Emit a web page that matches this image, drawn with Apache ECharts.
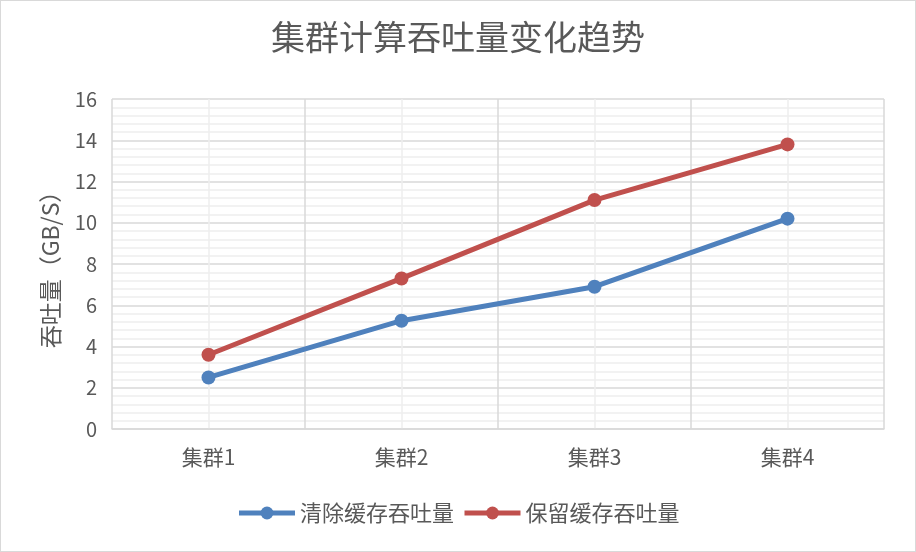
<!DOCTYPE html>
<html>
<head>
<meta charset="utf-8">
<script src="https://cdn.jsdelivr.net/npm/echarts@6/dist/echarts.min.js"></script>
<style>
  html, body { margin: 0; padding: 0; background: #fff; }
  #chart { width: 916px; height: 552px; box-sizing: border-box; border: 1px solid #d9d9d9; }
</style>
</head>
<body>
<div id="chart"></div>
<script>
// 数据
const clusters = ['集群1', '集群2', '集群3', '集群4'];
const clearCache = [2.5, 5.25, 6.9, 10.2];
const keepCache = [3.6, 7.3, 11.1, 13.8];
const seriesNames = ['清除缓存吞吐量', '保留缓存吞吐量'];

const FONT = '"Noto Sans CJK SC", "Noto Sans", sans-serif';
const TEXT = '#595959';

const chart = echarts.init(document.getElementById('chart'), null, { renderer: 'canvas' });

const option = {
  animation: false,
  color: ['#4f81bd', '#c0504d'],
  textStyle: { fontFamily: FONT },
  title: {
    text: '集群计算吞吐量变化趋势',
    left: 'center',
    top: 14,
    textStyle: { fontFamily: FONT, fontSize: 34, fontWeight: 'normal', color: TEXT }
  },
  legend: {
    bottom: 22,
    left: 'center',
    itemWidth: 56,
    itemHeight: 16,
    itemGap: 8,
    lineStyle: { width: 5 },
    textStyle: { fontFamily: FONT, fontSize: 22, color: TEXT },
    data: seriesNames
  },
  grid: { left: 111, right: 31, top: 98, bottom: 122 },
  xAxis: [
    {
      type: 'category',
      data: clusters,
      boundaryGap: true,
      axisLine: { lineStyle: { color: '#d9d9d9', width: 1.5 } },
      axisTick: { show: false },
      splitLine: { show: false },
      axisLabel: { margin: 18, fontSize: 21, color: TEXT, fontFamily: FONT }
    },
    {
      // 只用来画竖向网格线（分类边界深、中心浅）
      type: 'value',
      min: 0,
      max: 4,
      interval: 0.5,
      position: 'top',
      axisLine: { show: false },
      axisTick: { show: false },
      axisLabel: { show: false },
      splitLine: { show: true, lineStyle: { color: ['#d9d9d9', '#eeeeee'], width: 1.5 } }
    }
  ],
  yAxis: {
    type: 'value',
    min: 0,
    max: 16,
    interval: 2,
    name: '吞吐量（GB/S）',
    nameLocation: 'middle',
    nameGap: 50,
    nameTextStyle: { fontFamily: FONT, fontSize: 23, color: TEXT },
    axisLine: { show: false },
    axisTick: { show: false },
    axisLabel: { margin: 15, fontSize: 20, color: TEXT, fontFamily: FONT },
    splitLine: { show: true, lineStyle: { color: '#d9d9d9', width: 1.5 } },
    minorTick: { show: false, splitNumber: 5 },
    minorSplitLine: { show: true, lineStyle: { color: '#eeeeee', width: 1.5 } }
  },
  series: [
    {
      name: seriesNames[0],
      type: 'line',
      data: clearCache,
      symbol: 'circle',
      symbolSize: 14,
      lineStyle: { width: 5 }
    },
    {
      name: seriesNames[1],
      type: 'line',
      data: keepCache,
      symbol: 'circle',
      symbolSize: 14,
      lineStyle: { width: 5 }
    }
  ]
};

chart.setOption(option);
</script>
</body>
</html>
